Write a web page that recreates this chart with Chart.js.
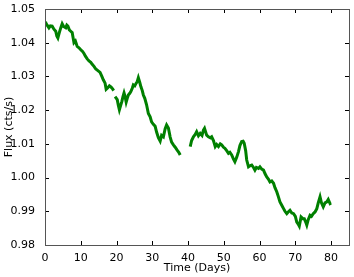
<!DOCTYPE html>
<html>
<head>
<meta charset="utf-8">
<script src="https://cdn.jsdelivr.net/npm/chart.js@4/dist/chart.umd.min.js"></script>
<style>
  html, body { margin: 0; padding: 0; background: #fff; }
  #wrap { width: 354px; height: 277px; }
</style>
</head>
<body>
<div id="wrap"><canvas id="lightCurve"></canvas></div>
<script>
// Light curve (null = gap in the data)
const timeDays = [
  0.0, 0.2, 0.6, 1.1, 1.5, 2.0, 2.5, 3.0, 3.3, 3.6, 4.0, 4.4, 4.8, 5.2, 5.8, 6.1, 6.4, 6.8, 7.2, 7.6,
  8.1, 8.5, 9.0, 9.5, 10.0, 10.5, 10.9, 11.3, 11.8, 12.3, 12.8, 13.2, 13.7, 14.2, 14.7, 15.4, 15.9, 16.3, 16.8, 17.1,
  17.5, 18.0, 18.5, 18.9, 19.2, 19.4, 19.6, 20.2, 20.5, 20.8, 21.1, 21.5, 21.8, 22.1, 22.4, 22.7, 23.0, 23.3, 23.7, 24.0,
  24.4, 24.7, 25.1, 25.5, 25.8, 26.1, 26.5, 26.8, 27.2, 27.5, 27.9, 28.4, 28.9, 29.4, 29.8, 30.3, 30.8, 31.2, 31.7, 32.2,
  32.6, 33.1, 33.6, 34.0, 34.5, 35.0, 35.4, 35.9, 36.4, 36.9, 37.4, 37.8, 39.0, 40.6, 41.0, 41.5, 42.0, 42.4, 42.9, 43.4,
  43.9, 44.3, 44.6, 45.2, 45.7, 46.2, 46.6, 47.1, 47.6, 48.0, 48.5, 49.0, 49.4, 49.9, 50.3, 50.8, 51.3, 51.7, 52.2, 52.7,
  53.1, 53.6, 54.1, 54.5, 55.0, 55.4, 55.7, 56.1, 56.4, 56.9, 57.3, 57.8, 58.3, 58.7, 59.1, 59.7, 60.1, 60.6, 61.1, 61.5,
  62.0, 62.5, 62.9, 63.4, 63.9, 64.3, 64.8, 65.2, 65.7, 66.2, 66.7, 67.1, 67.6, 68.0, 68.5, 69.0, 69.5, 70.0, 70.4, 70.9,
  71.1, 71.6, 72.1, 72.5, 72.9, 73.2, 73.6, 74.1, 74.5, 75.0, 75.5, 76.0, 76.4, 76.9, 77.3, 77.8, 78.3, 78.8, 79.2, 79.7,
  80.0
];
const fluxValues = [
  1.0462, 1.0459, 1.0452, 1.0444, 1.0450, 1.0449, 1.0440, 1.0434, 1.0420, 1.0414, 1.0430, 1.0444, 1.0456, 1.0448, 1.0444, 1.0452, 1.0449, 1.0438, 1.0434, 1.0430,
  1.0400, 1.0405, 1.0389, 1.0385, 1.0379, 1.0374, 1.0368, 1.0360, 1.0352, 1.0346, 1.0342, 1.0336, 1.0330, 1.0322, 1.0318, 1.0312, 1.0300, 1.0290, 1.0280, 1.0262,
  1.0266, 1.0272, 1.0268, 1.0263, 1.0258, null, 1.0240, 1.0231, 1.0215, 1.0201, 1.0212, 1.0226, 1.0240, 1.0251, 1.0240, 1.0224, 1.0235, 1.0245, 1.0250, 1.0255,
  1.0265, 1.0275, 1.0272, 1.0280, 1.0285, 1.0296, 1.0282, 1.0270, 1.0258, 1.0245, 1.0235, 1.0216, 1.0190, 1.0180, 1.0165, 1.0158, 1.0152, 1.0135, 1.0118, 1.0108,
  1.0125, 1.0121, 1.0145, 1.0156, 1.0147, 1.0120, 1.0105, 1.0097, 1.0090, 1.0082, 1.0075, 1.0067, null, 1.0092, 1.0110, 1.0121, 1.0128, 1.0136, 1.0124, 1.0131,
  1.0125, 1.0141, 1.0146, 1.0126, 1.0121, 1.0118, 1.0121, 1.0110, 1.0092, 1.0098, 1.0092, 1.0100, 1.0097, 1.0090, 1.0087, 1.0080, 1.0072, 1.0075, 1.0067, 1.0055,
  1.0047, 1.0060, 1.0077, 1.0095, 1.0107, 1.0108, 1.0102, 1.0080, 1.0052, 1.0032, 1.0035, 1.0037, 1.0030, 1.0022, 1.0030, 1.0027, 1.0032, 1.0025, 1.0022, 1.0012,
  1.0002, 0.9995, 0.9987, 0.9990, 0.9983, 0.9970, 0.9958, 0.9945, 0.9928, 0.9918, 0.9908, 0.9900, 0.9893, 0.9898, 0.9903, 0.9895, 0.9893, 0.9885, 0.9868, 0.9860,
  0.9856, 0.9883, 0.9878, 0.9878, 0.9868, 0.9859, 0.9875, 0.9888, 0.9885, 0.9893, 0.9898, 0.9908, 0.9925, 0.9943, 0.9925, 0.9913, 0.9925, 0.9928, 0.9935, 0.9923,
  0.9925
];
const xTicks = [0, 10, 20, 30, 40, 50, 60, 70, 80];
const yTicks = [0.98, 0.99, 1.00, 1.01, 1.02, 1.03, 1.04, 1.05];

const points = timeDays.map((t, i) => ({ x: t, y: fluxValues[i] }));

// matplotlib-like frame with inward ticks on all four sides
const frameTicks = {
  id: 'frameTicks',
  afterDraw(chart) {
    const { ctx, chartArea: a, scales: { x, y } } = chart;
    const len = 4;
    ctx.save();
    ctx.strokeStyle = '#000';
    ctx.lineWidth = 1;
    ctx.beginPath();
    xTicks.forEach((v) => {
      const px = Math.round(x.getPixelForValue(v)) + 0.5;
      ctx.moveTo(px, a.bottom); ctx.lineTo(px, a.bottom - len);
      ctx.moveTo(px, a.top); ctx.lineTo(px, a.top + len);
    });
    yTicks.forEach((v) => {
      const py = Math.round(y.getPixelForValue(v)) + 0.5;
      ctx.moveTo(a.left, py); ctx.lineTo(a.left + len, py);
      ctx.moveTo(a.right, py); ctx.lineTo(a.right - len, py);
    });
    ctx.stroke();
    ctx.strokeStyle = '#555';
    ctx.strokeRect(Math.round(a.left) + 0.5, Math.round(a.top) + 0.5,
      Math.round(a.right - a.left), Math.round(a.bottom - a.top));
    ctx.restore();
  }
};

const font = { family: 'DejaVu Sans', size: 11 };

new Chart(document.getElementById('lightCurve'), {
  type: 'scatter',
  data: {
    datasets: [{
      data: points,
      showLine: true,
      spanGaps: false,
      borderColor: '#008000',
      borderWidth: 3,
      pointRadius: 0,
      tension: 0
    }]
  },
  options: {
    responsive: true,
    maintainAspectRatio: false,
    animation: false,
    layout: { padding: { left: 3, right: 5, top: 9, bottom: 0 } },
    plugins: { legend: { display: false }, tooltip: { enabled: false } },
    scales: {
      x: {
        type: 'linear', min: 0, max: 85,
        grid: { display: false },
        border: { display: false },
        afterBuildTicks: (s) => { s.ticks = xTicks.map((v) => ({ value: v })); },
        afterFit: (s) => { s.height = 32; },
        ticks: { color: '#000', font, padding: -1, maxRotation: 0, callback: (v) => String(v) },
        title: { display: true, text: 'Time (Days)', color: '#000', font, padding: { top: 2, bottom: 2 } }
      },
      y: {
        type: 'linear', min: 0.98, max: 1.05,
        grid: { display: false },
        border: { display: false },
        afterBuildTicks: (s) => { s.ticks = yTicks.map((v) => ({ value: v })); },
        afterFit: (s) => { s.width = 42; },
        ticks: { color: '#000', font, padding: 2, callback: (v) => v.toFixed(2) },
        title: { display: true, text: 'Flux (cts/s)', color: '#000', font, padding: { top: 0, bottom: 0 } }
      }
    }
  },
  plugins: [frameTicks]
});
</script>
</body>
</html>
